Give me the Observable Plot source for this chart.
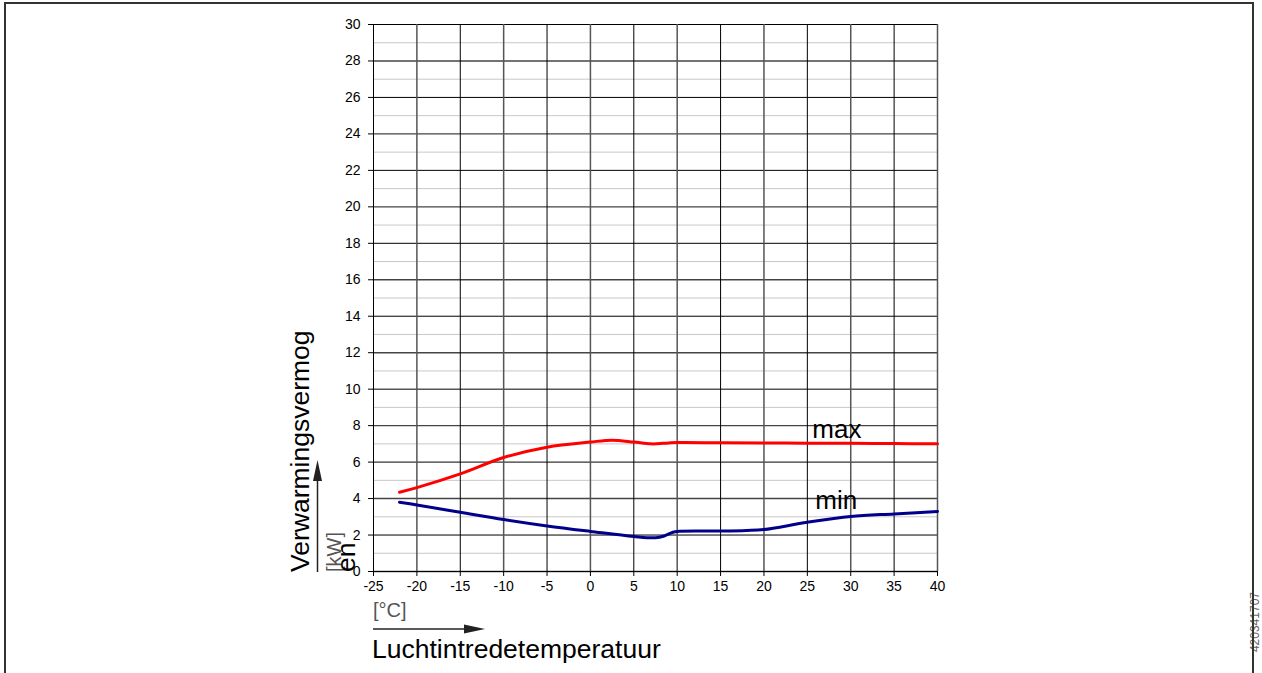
<!DOCTYPE html>
<html><head><meta charset="utf-8">
<script src="https://cdn.jsdelivr.net/npm/d3@7"></script>
<script src="https://cdn.jsdelivr.net/npm/@observablehq/plot@0.6"></script>
<style>
html,body{margin:0;padding:0;background:#fff;overflow:hidden;}
#wrap{position:relative;width:1262px;height:673px;}
#chart{position:absolute;left:0;top:0;}
#frame{position:absolute;left:4px;top:2px;width:1250px;height:760px;border:2px solid #333;box-sizing:border-box;pointer-events:none;z-index:2;}
</style></head>
<body><div id="wrap"><div id="chart"></div><div id="frame"></div></div>
<script>
// Data
const maxTemps = [-22, -20, -15, -10, -5, 0, 2.5, 5, 7, 9, 10, 15, 20, 25, 30, 35, 40];
const maxPower = [4.35, 4.6, 5.35, 6.25, 6.82, 7.1, 7.2, 7.1, 7.0, 7.05, 7.07, 7.06, 7.05, 7.04, 7.03, 7.02, 7.0];
const minTemps = [-22, -20, -15, -10, -5, 0, 5, 7.5, 8.5, 9.5, 10, 15, 18, 20, 25, 30, 35, 40];
const minPower = [3.8, 3.65, 3.25, 2.85, 2.5, 2.2, 1.92, 1.85, 1.95, 2.15, 2.2, 2.22, 2.25, 2.3, 2.7, 3.02, 3.16, 3.29];
const seriesNames = ["max", "min"];
const xTicks = [-25, -20, -15, -10, -5, 0, 5, 10, 15, 20, 25, 30, 35, 40];
const yTicks = [0, 2, 4, 6, 8, 10, 12, 14, 16, 18, 20, 22, 24, 26, 28, 30];
const yMinorTicks = [1, 3, 5, 7, 9, 11, 13, 15, 17, 19, 21, 23, 25, 27, 29];
const yLabel1 = "Verwarmingsvermog";
const yLabel2 = "en";
const yUnit = "[kW]";
const xLabel = "Luchtintredetemperatuur";
const xUnit = "[°C]";
const docCode = "420341707";
const labelAt = 25;

const maxData = maxTemps.map((t, i) => ({t, p: maxPower[i]}));
const minData = minTemps.map((t, i) => ({t, p: minPower[i]}));
const maxLabel = [{name: seriesNames[0], t: labelAt, p: maxPower[maxTemps.indexOf(labelAt)]}];
const minLabel = [{name: seriesNames[1], t: labelAt, p: minPower[minTemps.indexOf(labelAt)]}];

const ff = "'Liberation Sans', Arial, sans-serif";
const W = 1262, H = 673;
const plot = Plot.plot({
  width: W, height: H,
  marginLeft: 373, marginRight: 325, marginTop: 24, marginBottom: 102,
  style: {fontFamily: ff, background: "transparent", color: "#000"},
  x: {domain: [-25, 40]},
  y: {domain: [0, 30]},
  marks: [
    Plot.ruleY(yMinorTicks, {stroke: "#c8c8c8", strokeWidth: 1}),
    Plot.ruleY(yTicks.filter((d, i) => i % 2 === 1), {stroke: "#000", strokeWidth: 1}),
    Plot.ruleY(yTicks.filter((d, i) => i % 2 === 0), {stroke: "#444", strokeWidth: 1.4}),
    Plot.ruleX(xTicks.filter((d, i) => i % 2 === 0), {stroke: "#000", strokeWidth: 1}),
    Plot.ruleX(xTicks.filter((d, i) => i % 2 === 1), {stroke: "#555", strokeWidth: 1.5}),
    Plot.ruleY([0], {stroke: "#000", strokeWidth: 1}),
    Plot.axisX(xTicks, {tickSize: 5, tickPadding: 5, fontSize: 14, tickFormat: d => String(d), label: null, stroke: "#000"}),
    Plot.axisY(yTicks, {tickSize: 5, tickPadding: 8, fontSize: 14, tickFormat: d => String(d), label: null, stroke: "#000"}),
    Plot.line(maxData, {x: "t", y: "p", stroke: "#ff0000", strokeWidth: 3, curve: "catmull-rom"}),
    Plot.line(minData, {x: "t", y: "p", stroke: "#00008b", strokeWidth: 3, curve: "catmull-rom"}),
    Plot.text(maxLabel, {x: "t", y: "p", text: "name", dx: 5, dy: -13, textAnchor: "start", fontSize: 26, fill: "#000"}),
    Plot.text(minLabel, {x: "t", y: "p", text: "name", dx: 8, dy: -22, textAnchor: "start", fontSize: 26, fill: "#000"})
  ]
});
document.getElementById("chart").appendChild(plot);

const svg = d3.select(plot);
const ink = "#222";
const gray = "#555";
function addText(attrs, txt) {
  const t = svg.append("text").attr("text-anchor", "start").attr("font-family", ff);
  for (const k in attrs) t.attr(k, attrs[k]);
  t.text(txt);
  return t;
}
// Y label
addText({transform: "translate(309,572) rotate(-90)", "font-size": 26.5, fill: "#000"}, yLabel1);
addText({transform: "translate(341,572) rotate(-90)", "font-size": 20, fill: gray}, yUnit);
addText({transform: "translate(355,572) rotate(-90)", "font-size": 26.5, fill: "#000"}, yLabel2);
// Y arrow
svg.append("line").attr("x1", 317.5).attr("x2", 317.5).attr("y1", 572).attr("y2", 478).attr("stroke", ink).attr("stroke-width", 1.5);
svg.append("path").attr("d", "M317.5,460 L313,481 L322,481 Z").attr("fill", ink);
// X label
addText({x: 373, y: 617, "font-size": 20, fill: gray}, xUnit);
svg.append("line").attr("x1", 373).attr("x2", 468).attr("y1", 629).attr("y2", 629).attr("stroke", ink).attr("stroke-width", 1.5);
svg.append("path").attr("d", "M485,629 L464,624.5 L464,633.5 Z").attr("fill", ink);
addText({x: 372, y: 658, "font-size": 26.5, fill: "#000"}, xLabel);
// Document code
addText({transform: "translate(1259,592) rotate(-90)", "text-anchor": "end", "font-size": 12, fill: "#666"}, docCode);
</script>
</body></html>
